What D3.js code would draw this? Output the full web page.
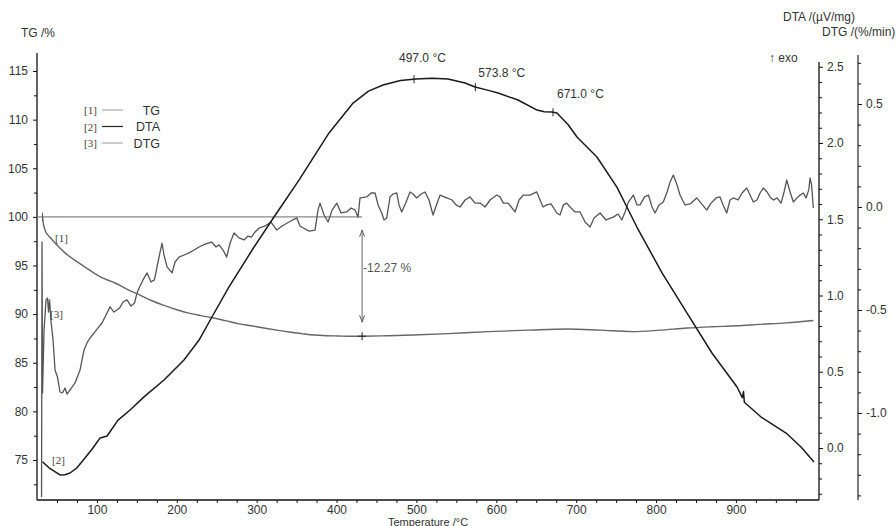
<!DOCTYPE html>
<html><head><meta charset="utf-8">
<script src="https://cdn.jsdelivr.net/npm/d3@7"></script>
<style>
html,body{margin:0;padding:0;background:#fff;}
svg text{font-family:"Liberation Sans",Arial,sans-serif;fill:#333;}
</style></head><body>
<svg id="chart" width="896" height="526"></svg>
<script>
// ---------- DATA ----------
const xTicks = [100,200,300,400,500,600,700,800,900];
const tgTicks = [75,80,85,90,95,100,105,110,115];
const dtaTicks = [0.0,0.5,1.0,1.5,2.0,2.5];
const dtgTicks = [-1.0,-0.5,0.0,0.5];

const seriesNames = ["TG","DTA","DTG"];
const seriesIds = ["[1]","[2]","[3]"];

const tgTemp = [31.9,33,35,38,41.3,50,60,75,91.4,105,122.7,138,153.4,168,184,200,215,230,246.6,262,278,293,309,325,340.5,356,372,387,402.5,418,432,464,496,540,590,640,689,730,770,805,839,870,901,930,963,997];
const tgValue = [100.0,99.3,98.65,98.2,97.9,97.1,96.3,95.4,94.5,93.8,93.2,92.55,91.97,91.4,90.9,90.45,90.1,89.85,89.6,89.3,89.0,88.8,88.57,88.35,88.16,88.0,87.85,87.78,87.75,87.72,87.73,87.78,87.85,88.0,88.2,88.35,88.47,88.35,88.2,88.35,88.57,88.7,88.8,88.95,89.1,89.35];

const dtaTemp = [31.9,40,53.8,60,66.3,75,85.1,95,104,112.7,126.5,141.5,160,184,209,227.9,244,265.4,296.7,321.7,353,390.6,420.7,440,458.2,480,499.5,520,539.6,560.9,573.4,590,602.2,627.2,651,660,669.8,676,690,701,726,751,776,807.5,838.8,870,901.4,908,909.5,910.5,931.5,962.8,981.5,997.8];
const dtaValue = [-0.090,-0.13,-0.177,-0.175,-0.164,-0.13,-0.066,0.0,0.066,0.079,0.183,0.249,0.34,0.446,0.577,0.708,0.859,1.056,1.318,1.515,1.757,2.066,2.262,2.34,2.380,2.41,2.420,2.425,2.420,2.393,2.367,2.345,2.328,2.282,2.216,2.205,2.203,2.197,2.12,2.039,1.908,1.711,1.449,1.148,0.885,0.623,0.400,0.33,0.37,0.30,0.203,0.098,0.007,-0.092];

const dtgTemp = [30.7,31.3,31.9,33.8,36.3,38.2,39.4,40.7,42.6,45.1,47.6,50.6,53.8,56.8,60.1,62.6,66.4,72.6,78.9,83.9,87.6,91.4,97.3,101.4,106.4,111.4,116.4,121.4,128.5,132.7,137.7,142.7,147.1,150.2,153.4,157.7,162.8,167.8,172,176.5,181.5,184,187.8,194.1,197.8,202.8,209.1,215.3,221.6,227.9,235.4,243.6,249.1,252.9,257.9,262.4,266.7,271.7,277.9,284.2,289.2,293.5,298,303,310.5,318,325.1,331.8,340.5,350.2,354.3,358.4,365.6,373.1,376.8,379.3,384.4,389.4,394.4,400.3,405.6,412.8,418.2,423.2,426.9,429.4,437.8,443.2,448.2,452,456.6,459.5,462.8,467,470.7,475.4,478.2,481.6,486.6,492,495.8,500.4,505.8,510.8,515.8,520.8,524.6,529.6,538,544.6,549.6,554.6,560.9,567.1,573.4,579.7,585.9,592.2,600.6,604.7,608.8,614.7,619.7,623.5,628.5,633.9,642.3,650.6,654.8,658.5,663.2,668.5,675.7,679.8,683.9,688.2,692.3,698.6,704.9,711.1,717.4,722.4,729.9,737.4,746.5,752.4,757.1,761.2,765.4,771.6,776.2,780,785.6,790.4,795,798.7,803.8,809.1,813.8,817.5,821.7,826.3,830,836.3,842.6,851,856.3,863.5,868.9,875.1,880.1,883.9,888.5,892.6,896.7,902.7,907.7,913.5,917.7,921.8,926.4,930.2,934.3,939,942.7,946.9,951.5,956.5,960.3,963.6,967.8,971.9,976.5,980.3,984.4,987.8,991.2,992.8,994.7,996.9];
const dtgValue = [-1.408,-0.170,-0.903,-0.597,-0.451,-0.442,-0.510,-0.451,-0.558,-0.646,-0.791,-0.825,-0.898,-0.903,-0.879,-0.908,-0.888,-0.854,-0.791,-0.694,-0.660,-0.636,-0.607,-0.587,-0.563,-0.524,-0.485,-0.510,-0.490,-0.461,-0.451,-0.481,-0.466,-0.417,-0.388,-0.354,-0.320,-0.364,-0.354,-0.267,-0.175,-0.233,-0.291,-0.320,-0.267,-0.243,-0.233,-0.223,-0.209,-0.194,-0.180,-0.170,-0.194,-0.184,-0.209,-0.243,-0.175,-0.126,-0.150,-0.160,-0.141,-0.146,-0.121,-0.102,-0.092,-0.073,-0.112,-0.092,-0.073,-0.053,-0.092,-0.102,-0.117,-0.112,-0.015,0.019,-0.039,-0.073,-0.015,0.019,-0.029,-0.024,-0.005,-0.015,-0.049,0.044,0.049,0.068,0.068,0.010,-0.029,-0.063,-0.053,0.049,0.063,0.068,0.010,-0.024,0.019,0.073,0.063,0.044,0.063,0.073,0.034,-0.039,0.005,0.058,0.044,0.034,0.010,0.000,0.034,0.049,0.019,0.019,0.000,0.034,0.058,0.049,0.019,0.019,-0.005,-0.024,0.034,0.058,0.058,0.073,0.034,0.000,0.010,0.015,-0.029,-0.039,0.010,0.019,0.000,-0.024,-0.024,-0.073,-0.097,-0.053,-0.029,-0.063,-0.049,-0.034,-0.063,-0.024,0.024,0.058,0.010,0.010,0.049,0.058,0.000,-0.029,0.010,0.024,0.073,0.121,0.155,0.107,0.058,0.010,0.015,0.044,0.019,-0.015,0.019,0.044,0.049,0.010,-0.029,0.034,0.044,0.034,0.068,0.092,0.058,0.024,0.034,0.068,0.092,0.073,0.049,0.034,0.044,0.019,0.073,0.131,0.073,0.024,0.044,0.058,0.068,0.044,0.083,0.141,0.107,-0.005];

const peakTemps = [497.0, 573.8, 671.0];
const peakLabels = ["497.0 °C", "573.8 °C", "671.0 °C"];
const massChangeTemp = 432;
const massStart = 100;
const massChange = -12.27;

// ---------- LAYOUT ----------
const svg = d3.select("#chart");
const L = 37, R = 819, B = 500;
const x = d3.scaleLinear().domain([25, 1004]).range([L, R]);
const yTG = d3.scaleLinear().domain([75, 115]).range([460, 71]);
const yDTA = d3.scaleLinear().domain([0, 2.5]).range([448, 66.75]);
const yDTG = d3.scaleLinear().domain([-1, 0.5]).range([413, 104]);
const dtgX = 858;
const fmt1 = v => v.toFixed(1);
const axisColor = "#111";

function styleAxis(g){
  g.selectAll("path.domain").remove();
  g.selectAll("line").attr("stroke", axisColor);
  g.selectAll("text").attr("font-size", 12).style("fill","#333");
}
function range(a,b,s){const r=[];for(let v=a;v<=b+1e-9;v+=s)r.push(+v.toFixed(3));return r;}

// axis lines
svg.append("line").attr("x1",L).attr("x2",L).attr("y1",53).attr("y2",B).attr("stroke",axisColor).attr("stroke-width",1.3);
svg.append("line").attr("x1",L).attr("x2",R).attr("y1",B).attr("y2",B).attr("stroke",axisColor).attr("stroke-width",1.3);
svg.append("line").attr("x1",R).attr("x2",R).attr("y1",62).attr("y2",B).attr("stroke",axisColor).attr("stroke-width",1.3);
svg.append("line").attr("x1",dtgX).attr("x2",dtgX).attr("y1",55).attr("y2",B).attr("stroke",axisColor).attr("stroke-width",1.1);

// bottom axis
svg.append("g").attr("transform",`translate(0,${B})`)
  .call(d3.axisBottom(x).tickValues(range(50,1000,25).filter(v=>v%100!==0)).tickSize(3).tickFormat(""))
  .call(styleAxis);
svg.append("g").attr("transform",`translate(0,${B})`)
  .call(d3.axisBottom(x).tickValues(xTicks).tickSize(3).tickPadding(2).tickFormat(d3.format("d")))
  .call(styleAxis);

// left TG axis
svg.append("g").attr("transform",`translate(${L},0)`)
  .call(d3.axisLeft(yTG).tickValues(range(72.5,112.5,5)).tickSize(3).tickFormat(""))
  .call(styleAxis);
svg.append("g").attr("transform",`translate(${L},0)`)
  .call(d3.axisLeft(yTG).tickValues(tgTicks).tickSize(4).tickPadding(5).tickFormat(d3.format("d")))
  .call(styleAxis);

// DTA axis
svg.append("g").attr("transform",`translate(${R},0)`)
  .call(d3.axisRight(yDTA).tickValues(range(-0.3,2.5,0.1).filter(v=>Math.abs(v*2-Math.round(v*2))>1e-6)).tickSize(3).tickFormat(""))
  .call(styleAxis);
svg.append("g").attr("transform",`translate(${R},0)`)
  .call(d3.axisRight(yDTA).tickValues(dtaTicks).tickSize(4).tickPadding(4).tickFormat(fmt1))
  .call(styleAxis);

// DTG axis
svg.append("g").attr("transform",`translate(${dtgX},0)`)
  .call(d3.axisRight(yDTG).tickValues(range(-1.4,0.7,0.1).filter(v=>Math.abs(v*2-Math.round(v*2))>1e-6)).tickSize(3).tickFormat(""))
  .call(styleAxis);
svg.append("g").attr("transform",`translate(${dtgX},0)`)
  .call(d3.axisRight(yDTG).tickValues(dtgTicks).tickSize(4).tickPadding(4).tickFormat(fmt1))
  .call(styleAxis);

// axis titles
svg.append("text").attr("x",21).attr("y",37).attr("font-size",12).text("TG /%");
svg.append("text").attr("x",783).attr("y",21).attr("font-size",12).text("DTA /(µV/mg)");
svg.append("text").attr("x",822).attr("y",36).attr("font-size",12).text("DTG /(%/min)");
svg.append("text").attr("x",769).attr("y",62).attr("font-size",12).text("↑ exo");
svg.append("text").attr("x",(L+R)/2).attr("y",526).attr("text-anchor","middle").attr("font-size",11).text("Temperature /°C");

// ---------- CURVES ----------
const tgData = tgTemp.map((t,i)=>({t,v:tgValue[i]}));
const dtaData = dtaTemp.map((t,i)=>({t,v:dtaValue[i]}));
const dtgData = dtgTemp.map((t,i)=>({t,v:dtgValue[i]}));

// reference line TG=100 and mass change arrow
svg.append("line").attr("x1",x(25)).attr("x2",x(massChangeTemp)).attr("y1",yTG(massStart)).attr("y2",yTG(massStart))
  .attr("stroke","#888").attr("stroke-width",1.2);

svg.append("path").datum(dtgData)
  .attr("d", d3.line().x(d=>x(d.t)).y(d=>yDTG(d.v)).curve(d3.curveLinear))
  .attr("fill","none").attr("stroke","#555").attr("stroke-width",1.3).attr("stroke-linejoin","round");

svg.append("path").datum(tgData)
  .attr("d", d3.line().x(d=>x(d.t)).y(d=>yTG(d.v)).curve(d3.curveMonotoneX))
  .attr("fill","none").attr("stroke","#666").attr("stroke-width",1.4);

svg.append("path").datum(dtaData)
  .attr("d", d3.line().x(d=>x(d.t)).y(d=>yDTA(d.v)).curve(d3.curveLinear))
  .attr("fill","none").attr("stroke","#1a1a1a").attr("stroke-width",1.5).attr("stroke-linejoin","round");

// start tick on TG
svg.append("line").attr("x1",x(tgTemp[0])).attr("x2",x(tgTemp[0])).attr("y1",yTG(massStart)-4).attr("y2",yTG(massStart)+4).attr("stroke","#555");

// arrow
const ax = x(massChangeTemp);
const aTop = yTG(massStart)+13, aBot = yTG(massStart+massChange)-14;
const ag = svg.append("g").attr("stroke","#666").attr("stroke-width",1).attr("fill","none");
ag.append("line").attr("x1",ax).attr("x2",ax).attr("y1",aTop).attr("y2",aBot);
ag.append("path").attr("d",`M${ax-2.5},${aTop+7}L${ax},${aTop}L${ax+2.5},${aTop+7}`);
ag.append("path").attr("d",`M${ax-2.5},${aBot-7}L${ax},${aBot}L${ax+2.5},${aBot-7}`);
const cy = yTG(massStart+massChange);
svg.append("path").attr("d",`M${ax-4},${cy}L${ax+4},${cy}M${ax},${cy-4}L${ax},${cy+4}`).attr("stroke","#222").attr("stroke-width",1);
svg.append("text").attr("x",ax+1).attr("y",(aTop+aBot)/2-4).attr("font-size",12).style("fill","#555")
  .text(massChange.toFixed(2)+" %");

// peak markers on DTA
const bis = d3.bisector(d=>d.t).left;
function dtaAt(t){const i=bis(dtaData,t);const a=dtaData[i-1],b=dtaData[i];return a.v+(b.v-a.v)*(t-a.t)/(b.t-a.t);}
const labelOffsets = [[-15,-17],[3,-10],[4,-14]];
peakTemps.forEach((t,i)=>{
  const px = x(t), py = yDTA(dtaAt(t));
  svg.append("line").attr("x1",px).attr("x2",px).attr("y1",py-4).attr("y2",py+4).attr("stroke","#222");
  svg.append("text").attr("x",px+labelOffsets[i][0]).attr("y",py+labelOffsets[i][1]).attr("font-size",12).text(peakLabels[i]);
});

// curve id labels
const serif = '"Liberation Serif","Times New Roman",serif';
svg.append("text").attr("x",55).attr("y",242).attr("font-size",11).style("font-family",serif).style("fill","#444").text(seriesIds[0]);
svg.append("text").attr("x",52).attr("y",464).attr("font-size",11).style("font-family",serif).style("fill","#444").text(seriesIds[1]);
svg.append("text").attr("x",50).attr("y",318).attr("font-size",11).style("font-family",serif).style("fill","#444").text(seriesIds[2]);

// legend
const legendColors = ["#aaa","#222","#aaa"];
seriesNames.forEach((n,i)=>{
  const yy = 110 + i*16.5;
  svg.append("text").attr("x",84).attr("y",yy+4).attr("font-size",11).style("font-family",serif).style("fill","#444").text(seriesIds[i]);
  svg.append("line").attr("x1",102).attr("x2",123).attr("y1",yy).attr("y2",yy).attr("stroke",legendColors[i]).attr("stroke-width",1.2);
  svg.append("text").attr("x",160).attr("y",yy+4.5).attr("text-anchor","end").attr("font-size",12.5).text(n);
});
</script>
</body></html>
